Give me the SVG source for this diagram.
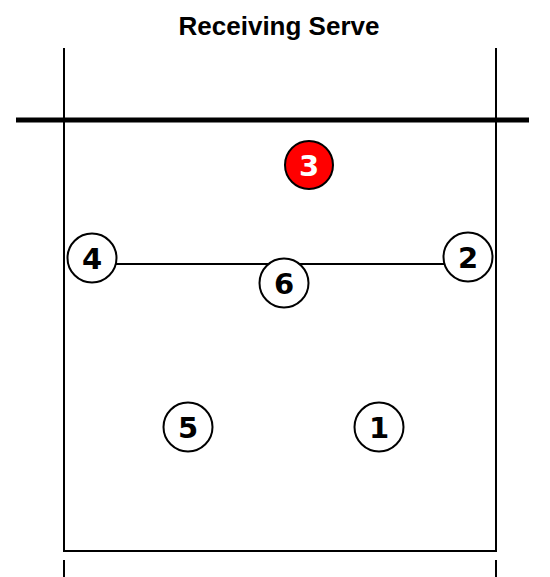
<svg xmlns="http://www.w3.org/2000/svg" width="550" height="577" viewBox="0 0 550 577">
  <style>
    .court { stroke: #000; stroke-width: 2; fill: none; }
    .net { stroke: #000; stroke-width: 5; }
    .player circle { fill: #fff; stroke: #000; stroke-width: 2; }
    .player text { font-family: "DejaVu Sans", "Liberation Sans", sans-serif; font-weight: bold; font-size: 29px; text-anchor: middle; fill: #000; }
    .player.server circle { fill: #f00; }
    .player.server text { fill: #fff; }
    .title { font-family: "Liberation Sans", Arial, sans-serif; font-weight: bold; font-size: 26px; text-anchor: middle; fill: #000; }
  </style>
  <rect width="550" height="577" fill="#fff"/>

  <text class="title" x="279" y="35">Receiving Serve</text>

  <g id="connectors">
    <!-- sidelines and end line -->
    <polyline class="court" points="64,48 64,551 496,551 496,48"/>
    <line class="court" x1="64" y1="560" x2="64" y2="577"/>
    <line class="court" x1="496" y1="560" x2="496" y2="577"/>
    <!-- net -->
    <line class="net" x1="16" y1="120" x2="529" y2="120"/>
    <!-- attack line between the front-row players -->
    <line class="court" x1="92" y1="264" x2="468" y2="264"/>
  </g>

  <g id="p3" class="player server">
    <circle cx="309" cy="165" r="24"/>
    <text x="309" y="176">3</text>
  </g>
  <g id="p4" class="player">
    <circle cx="92" cy="258" r="24.5"/>
    <text x="92" y="269">4</text>
  </g>
  <g id="p6" class="player">
    <circle cx="284" cy="283" r="24.5"/>
    <text x="284" y="294">6</text>
  </g>
  <g id="p2" class="player">
    <circle cx="468" cy="257" r="24.5"/>
    <text x="468" y="268">2</text>
  </g>
  <g id="p5" class="player">
    <circle cx="188" cy="427" r="24.5"/>
    <text x="188" y="438">5</text>
  </g>
  <g id="p1" class="player">
    <circle cx="379" cy="427" r="24.5"/>
    <text x="379" y="438">1</text>
  </g>
</svg>
